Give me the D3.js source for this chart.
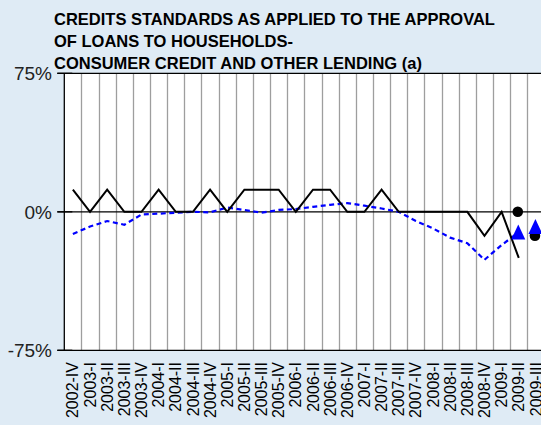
<!DOCTYPE html>
<html>
<head>
<meta charset="utf-8">
<script src="https://cdn.jsdelivr.net/npm/d3@7"></script>
<style>
  body { margin: 0; background: #dfebf5; }
  svg { display: block; font-family: "Liberation Sans", Arial, sans-serif; }
</style>
</head>
<body>
<svg id="chart" width="541" height="425"></svg>
<script>
let categories = ["2002-IV",
  "2003-I", "2003-II", "2003-III", "2003-IV",
  "2004-I", "2004-II", "2004-III", "2004-IV",
  "2005-I", "2005-II", "2005-III", "2005-IV",
  "2006-I", "2006-II", "2006-III", "2006-IV",
  "2007-I", "2007-II", "2007-III", "2007-IV",
  "2008-I", "2008-II", "2008-III", "2008-IV",
  "2009-I", "2009-II", "2009-III"];

// solid black series (Spain)
let spain_values = [12, 0, 12, 0, 0, 12, 0, 0, 12, 0, 12, 12, 12,
  0, 12, 12, 0, 0, 12, 0, 0, 0, 0, 0, -13, 0, -25, null];

// dashed blue series (euro area)
let euro_values = [-12, -8, -5, -7, -1.5, -1, -0.5, 0, -0.3, 2.3, 1, -0.5, 1,
  1.5, 2.7, 3.8, 4.7, 3.3, 1.8, 0, -5, -9, -14, -17, -26, -18, -11, null];

// expectations: dots for Spain, triangles for euro area
let spain_expected = [{cat: "2009-II", value: 0}, {cat: "2009-III", value: -13}];
let euro_expected = [{cat: "2009-II", value: -11}, {cat: "2009-III", value: -8}];

let y_ticks = [75, 0, -75];
let title_lines = ["CREDITS STANDARDS AS APPLIED TO THE APPROVAL",
  "OF LOANS TO HOUSEHOLDS-",
  "CONSUMER CREDIT AND OTHER LENDING (a)"];

let margin = {left: 64.3, top: 73.3, bottom: 350.3},
    step = 17.15,
    plot_right = margin.left + step * categories.length;

let x = d3.scaleBand()
  .domain(categories)
  .range([margin.left, plot_right]);

let y = d3.scaleLinear()
  .domain([-75, 75])
  .range([margin.bottom, margin.top]);

let svg = d3.select("#chart");
let cx = d => x(d) + x.bandwidth() / 2;

// plot background
svg.append("rect")
  .attr("x", margin.left).attr("y", margin.top)
  .attr("width", plot_right - margin.left)
  .attr("height", margin.bottom - margin.top)
  .attr("fill", "#fff");

// vertical grid at category boundaries
svg.append("g")
  .selectAll("line")
  .data(categories.slice(1)).enter()
  .append("line")
  .attr("x1", d => Math.round(x(d)) + 0.5)
  .attr("x2", d => Math.round(x(d)) + 0.5)
  .attr("y1", margin.top)
  .attr("y2", margin.bottom)
  .attr("stroke", "#9e9e9e")
  .attr("stroke-width", 1.3);

// frame: top, bottom, zero line
[75, -75, 0].forEach(v => {
  svg.append("line")
    .attr("x1", margin.left - 7).attr("x2", plot_right)
    .attr("y1", y(v)).attr("y2", y(v))
    .attr("stroke", "#000").attr("stroke-width", 1.3);
});
svg.append("line")
  .attr("x1", margin.left).attr("x2", margin.left)
  .attr("y1", margin.top).attr("y2", margin.bottom)
  .attr("stroke", "#000").attr("stroke-width", 1.3);

// y tick marks cross the axis
svg.append("g")
  .selectAll("line")
  .data(y_ticks).enter()
  .append("line")
  .attr("x1", margin.left - 7).attr("x2", margin.left + 8)
  .attr("y1", d => y(d)).attr("y2", d => y(d))
  .attr("stroke", "#000").attr("stroke-width", 1.3);

svg.append("g")
  .selectAll("text")
  .data(y_ticks).enter()
  .append("text")
  .attr("x", 52)
  .attr("y", d => y(d))
  .attr("dy", "0.36em")
  .attr("text-anchor", "end")
  .attr("font-size", 19)
  .attr("fill", "#222")
  .text(d => d + "%");

// x labels, rotated
svg.append("g")
  .selectAll("text")
  .data(categories).enter()
  .append("text")
  .attr("transform", d => `translate(${cx(d) + 5.6},362) rotate(-90)`)
  .attr("text-anchor", "end")
  .attr("font-size", 16)
  .attr("fill", "#000")
  .text(d => d);

let line = d3.line()
  .defined(d => d[1] !== null)
  .x(d => cx(d[0]))
  .y(d => y(d[1]));

svg.append("path")
  .datum(categories.map((c, i) => [c, euro_values[i]]))
  .attr("d", line)
  .attr("fill", "none")
  .attr("stroke", "#0000ff")
  .attr("stroke-width", 2.2)
  .attr("stroke-dasharray", "5,3.5");

svg.append("path")
  .datum(categories.map((c, i) => [c, spain_values[i]]))
  .attr("d", line)
  .attr("fill", "none")
  .attr("stroke", "#000")
  .attr("stroke-width", 2);

svg.append("g")
  .selectAll("circle")
  .data(spain_expected).enter()
  .append("circle")
  .attr("cx", d => cx(d.cat) - 1)
  .attr("cy", d => y(d.value))
  .attr("r", 5.3)
  .attr("fill", "#000");

// triangles centred on their bounding box
svg.append("g")
  .selectAll("path")
  .data(euro_expected).enter()
  .append("path")
  .attr("d", d => {
    let px = cx(d.cat) - 0.5, py = y(d.value);
    return `M${px},${py - 7.5}L${px + 7},${py + 7.5}L${px - 7},${py + 7.5}Z`;
  })
  .attr("fill", "#0000ff");

svg.append("g")
  .selectAll("text")
  .data(title_lines).enter()
  .append("text")
  .attr("x", 54)
  .attr("y", (d, i) => 25 + i * 22)
  .attr("font-size", 16.5)
  .attr("font-weight", "bold")
  .attr("fill", "#000")
  .text(d => d);
</script>
</body>
</html>
